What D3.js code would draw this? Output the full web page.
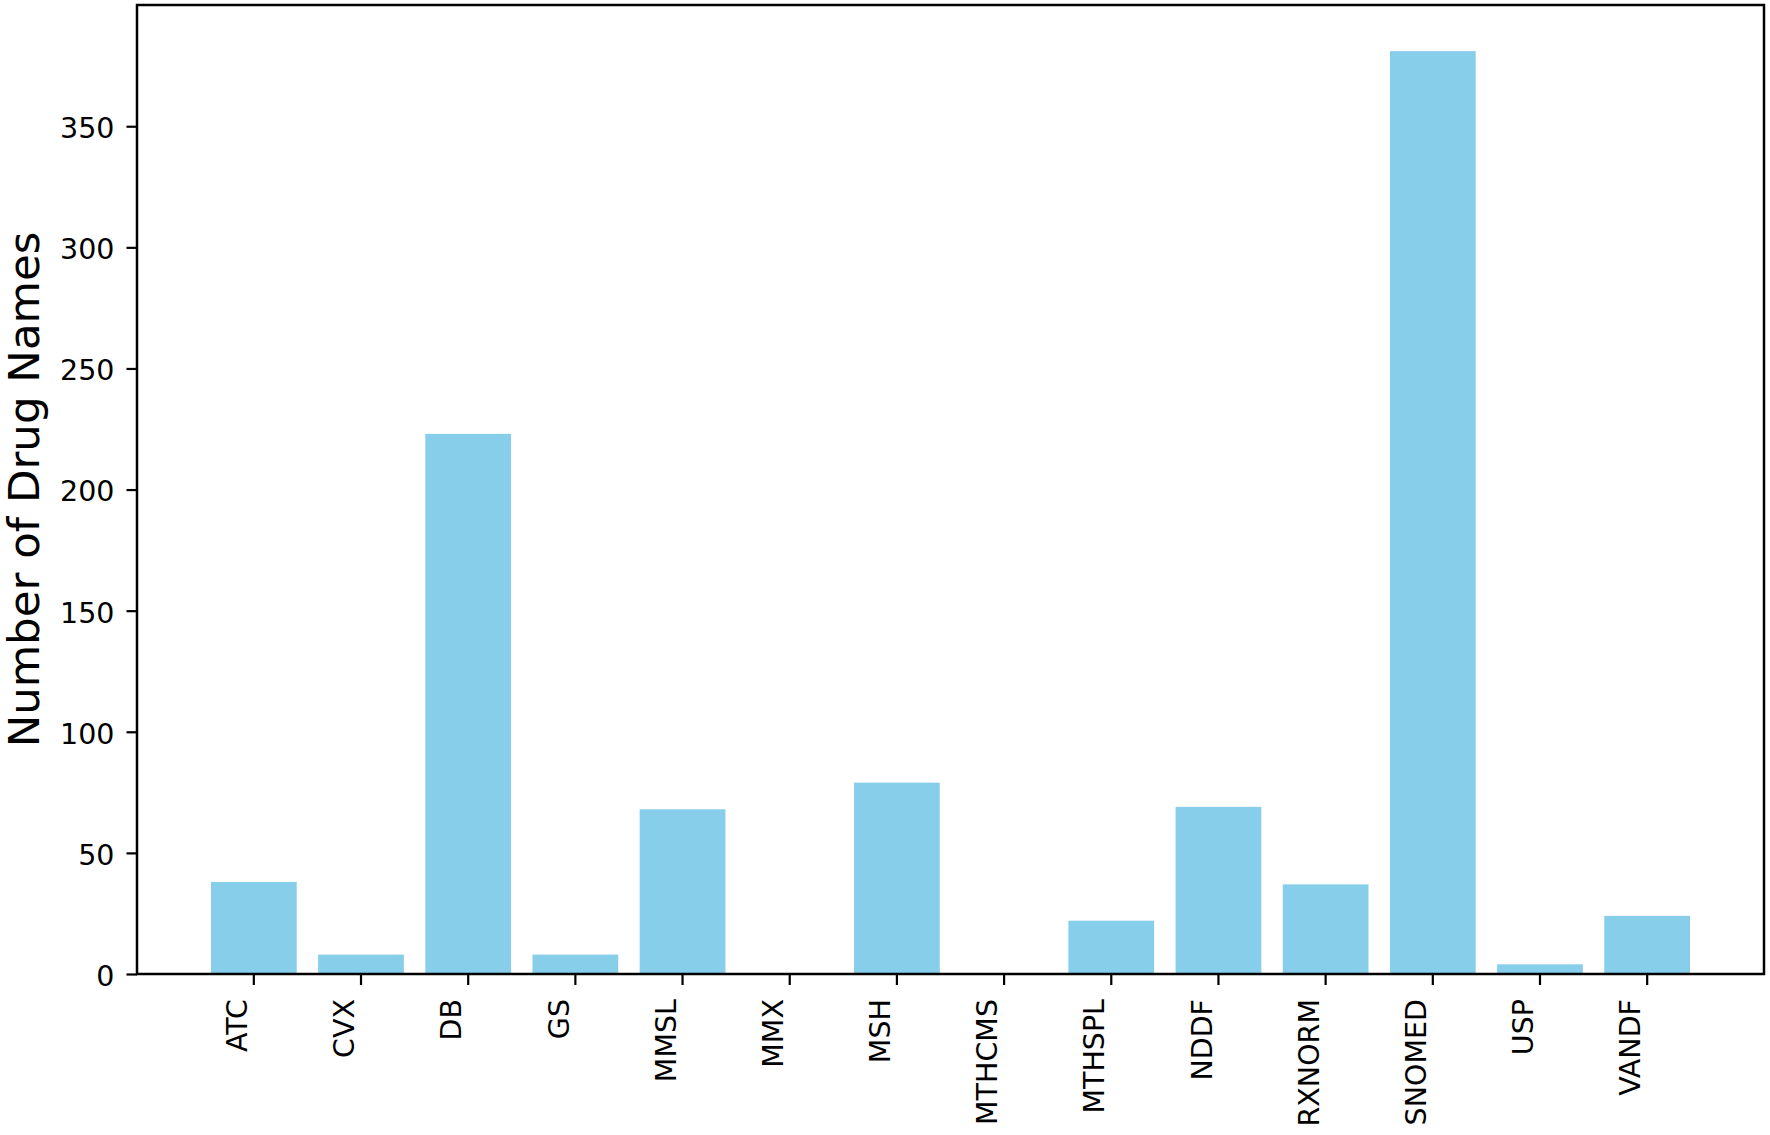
<!DOCTYPE html>
<html>
<head>
<meta charset="utf-8">
<script src="https://cdn.jsdelivr.net/npm/d3@7"></script>
<style>
  html, body { margin: 0; padding: 0; background: #fff; }
  svg { display: block; }
</style>
</head>
<body>
<script>
const categories = ["ATC","CVX","DB","GS","MMSL","MMX","MSH","MTHCMS","MTHSPL","NDDF","RXNORM","SNOMED","USP","VANDF"];
const counts = [38, 8, 223, 8, 68, 0, 79, 0, 22, 69, 37, 381, 4, 24];
const yTicks = [0, 50, 100, 150, 200, 250, 300, 350];
const yLabel = "Number of Drug Names";

(function () {
const W = 1770, H = 1135;
const mLeft = 137, mRight = 1764, mTop = 5, mBottom = 974;
const tickFont = 28.5, labelFont = 43.5;
const font = "DejaVu Sans, Verdana, sans-serif";

const svg = d3.select("body").append("svg").attr("width", W).attr("height", H);

const x = d3.scaleBand().domain(categories).range([mLeft, mRight])
  .paddingInner(0.2).paddingOuter(0.69);
const y = d3.scaleLinear().domain([0, d3.max(counts) * 1.05]).range([mBottom, mTop]);

// bars
svg.append("g").selectAll("rect").data(categories).join("rect")
  .attr("x", (d) => x(d))
  .attr("width", x.bandwidth())
  .attr("y", (d, i) => y(counts[i]))
  .attr("height", (d, i) => y(0) - y(counts[i]))
  .attr("fill", "#87CEEB");

// y axis
const yAxis = svg.append("g").attr("transform", `translate(${mLeft},0)`)
  .call(d3.axisLeft(y).tickValues(yTicks).tickSize(10.5).tickPadding(12).tickFormat(d3.format("d")));
yAxis.select(".domain").remove();
yAxis.selectAll(".tick line").attr("stroke", "#000").attr("stroke-width", 2.2);
yAxis.selectAll(".tick text").attr("font-family", font).attr("font-size", tickFont)
  .attr("fill", "#000").attr("dy", "0.4em");

// x axis
const xAxis = svg.append("g").attr("transform", `translate(0,${mBottom})`)
  .call(d3.axisBottom(x).tickSize(11).tickPadding(0));
xAxis.select(".domain").remove();
xAxis.selectAll(".tick line").attr("stroke", "#000").attr("stroke-width", 2.2);
xAxis.selectAll(".tick text")
  .attr("font-family", font).attr("font-size", tickFont).attr("fill", "#000")
  .attr("text-anchor", "end")
  .attr("dy", null).attr("y", null)
  .attr("transform", `translate(${-0.24 * tickFont},${25}) rotate(-90)`);

// frame
svg.append("rect").attr("x", mLeft).attr("y", mTop)
  .attr("width", mRight - mLeft).attr("height", mBottom - mTop)
  .attr("fill", "none").attr("stroke", "#000").attr("stroke-width", 2.5);

// y label
svg.append("text")
  .attr("transform", `translate(${39},${(mTop + mBottom) / 2}) rotate(-90)`)
  .attr("text-anchor", "middle")
  .attr("font-family", font).attr("font-size", labelFont).attr("fill", "#000")
  .text(yLabel);
})();
</script>
</body>
</html>
